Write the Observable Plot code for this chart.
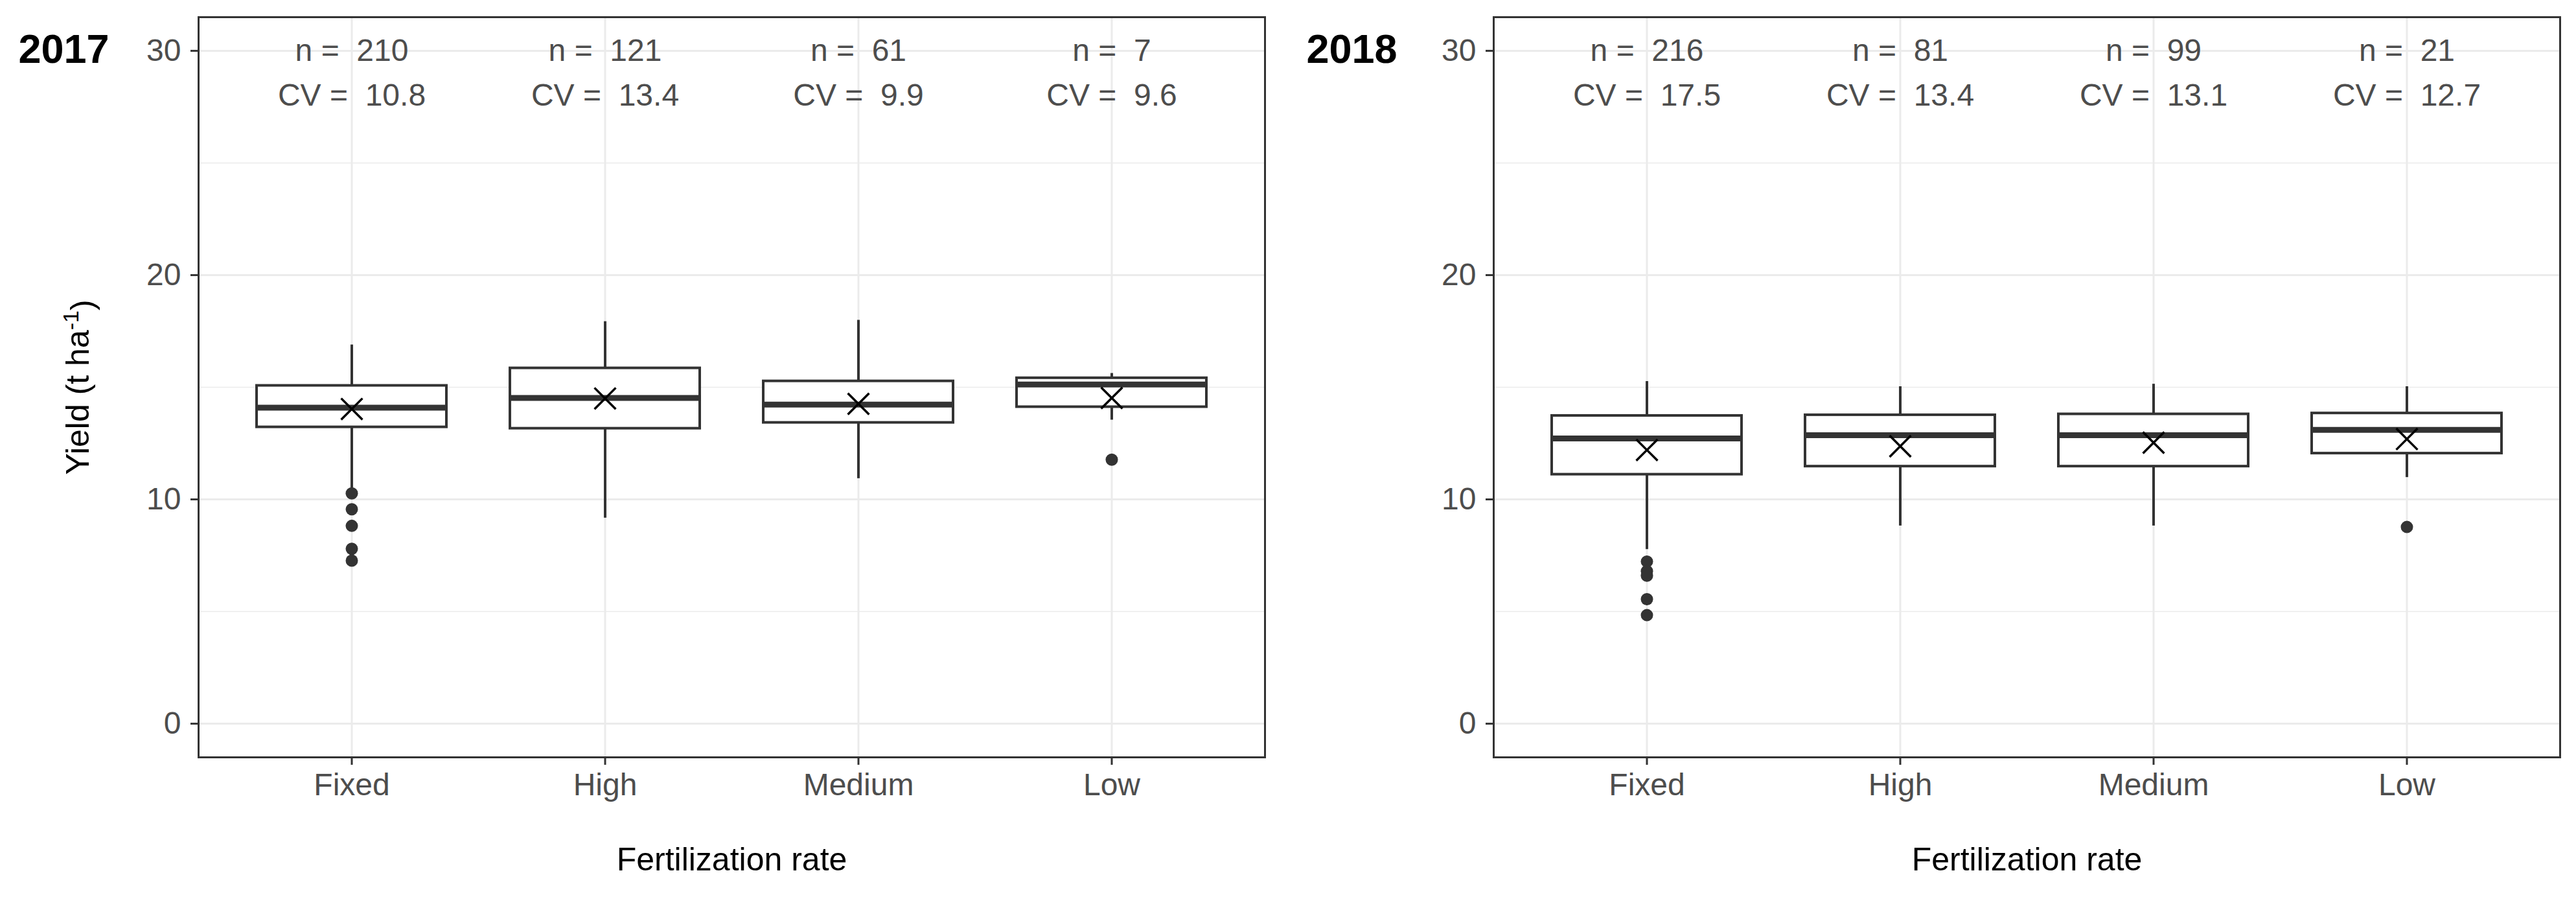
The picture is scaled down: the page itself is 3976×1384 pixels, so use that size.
<!DOCTYPE html>
<html>
<head>
<meta charset="utf-8">
<script src="https://cdn.jsdelivr.net/npm/d3@7"></script>
<script src="https://cdn.jsdelivr.net/npm/@observablehq/plot@0.6"></script>
<style>
  html, body { margin: 0; padding: 0; background: white; }
  #wrap { position: relative; width: 3976px; height: 1384px; background: white; }
  #wrap > div, #wrap > svg { position: absolute; top: 0; }
  svg text { white-space: pre; }
</style>
</head>
<body>
<div id="wrap"></div>
<script>
// ---- data ----
const categories = ["Fixed", "High", "Medium", "Low"];
const years = ["2017", "2018"];

const n2017 = [210, 121, 61, 7];
const cv2017 = ["10.8", "13.4", "9.9", "9.6"];
const lo2017 = [10.5, 9.17, 10.93, 13.54];
const q1_2017 = [13.22, 13.16, 13.42, 14.12];
const med2017 = [14.09, 14.52, 14.23, 15.12];
const q3_2017 = [15.07, 15.85, 15.27, 15.41];
const hi2017 = [16.89, 17.93, 17.99, 15.62];
const mean2017 = [14.03, 14.5, 14.26, 14.52];
const outCat2017 = ["Fixed", "Fixed", "Fixed", "Fixed", "Fixed", "Low"];
const outVal2017 = [10.27, 9.56, 8.82, 7.8, 7.27, 11.77];

const n2018 = [216, 81, 99, 21];
const cv2018 = ["17.5", "13.4", "13.1", "12.7"];
const lo2018 = [7.77, 8.82, 8.82, 10.98];
const q1_2018 = [11.11, 11.47, 11.47, 12.05];
const med2018 = [12.72, 12.86, 12.86, 13.1];
const q3_2018 = [13.73, 13.76, 13.8, 13.84];
const hi2018 = [15.26, 15.03, 15.14, 15.03];
const mean2018 = [12.2, 12.37, 12.53, 12.69];
const outCat2018 = ["Fixed", "Fixed", "Fixed", "Fixed", "Fixed", "Low"];
const outVal2018 = [7.23, 6.8, 6.6, 5.55, 4.84, 8.77];

const yTicks = [0, 10, 20, 30];
const yMinor = [5, 15, 25];
const xTitle = "Fertilization rate";
const yTitle = "Yield (t ha-1)";

// ---- build ----
function stats(n, cv, lo, q1, med, q3, hi, mean) {
  return categories.map((c, i) => ({cat: c, n: n[i], cv: cv[i], lo: lo[i], q1: q1[i], med: med[i], q3: q3[i], hi: hi[i], mean: mean[i]}));
}
const data = {
  "2017": {rows: stats(n2017, cv2017, lo2017, q1_2017, med2017, q3_2017, hi2017, mean2017),
           out: outCat2017.map((c, i) => ({cat: c, v: outVal2017[i]}))},
  "2018": {rows: stats(n2018, cv2018, lo2018, q1_2018, med2018, q3_2018, hi2018, mean2018),
           out: outCat2018.map((c, i) => ({cat: c, v: outVal2018[i]}))}
};

const FONT = "'Liberation Sans', Arial, Helvetica, sans-serif";
const GREY = "#333333";
const TXT = "#4d4d4d";

function panel(year, ml, mr, showYTitle) {
  const {rows, out} = data[year];
  const marks = [
    Plot.gridY(yMinor, {stroke: "#ebebeb", strokeOpacity: 1, strokeWidth: 1.6}),
    Plot.gridY(yTicks, {stroke: "#ebebeb", strokeOpacity: 1, strokeWidth: 3}),
    Plot.ruleX(categories, {x: d => d, stroke: "#ebebeb", strokeWidth: 3}),
    Plot.frame({stroke: GREY, strokeWidth: 3}),
    Plot.axisY({ticks: yTicks, tickSize: 12, tickPadding: 15, fontSize: 48, stroke: GREY, fill: TXT, strokeWidth: 3, label: null}),
    Plot.axisX({tickSize: 12, tickPadding: 12, fontSize: 48, stroke: GREY, fill: TXT, strokeWidth: 3, label: null}),
    // whiskers
    Plot.ruleX(rows, {x: "cat", y1: "q3", y2: "hi", stroke: GREY, strokeWidth: 4}),
    Plot.ruleX(rows, {x: "cat", y1: "lo", y2: "q1", stroke: GREY, strokeWidth: 4}),
    // boxes
    Plot.barY(rows, {x: "cat", y1: "q1", y2: "q3", fill: "white", stroke: GREY, strokeWidth: 4}),
    // median
    Plot.tickY(rows, {x: "cat", y: "med", stroke: GREY, strokeWidth: 9}),
    // outliers
    Plot.dot(out, {x: "cat", y: "v", r: 9.5, fill: GREY, stroke: null}),
    // mean
    Plot.dot(rows, {x: "cat", y: "mean", symbol: "times", r: 15, stroke: "black", strokeWidth: 3.5}),
    // annotations
    Plot.text(rows, {x: "cat", y: 30, text: d => `n =  ${d.n}`, fontSize: 48, fill: TXT}),
    Plot.text(rows, {x: "cat", y: 28, text: d => `CV =  ${d.cv}`, fontSize: 48, fill: TXT}),
    // titles
    Plot.text([xTitle], {frameAnchor: "bottom", lineAnchor: "middle", textAnchor: "middle", text: d => d, dy: 158, fontSize: 50, fill: "black"}),
    Plot.text([year], {frameAnchor: "top-left", lineAnchor: "middle", text: d => d, textAnchor: "start", dx: -(ml - 28), dy: 50, fontSize: 63, fontWeight: "bold", fill: "black"})
  ];
  if (showYTitle) {
    marks.push(Plot.text([yTitle], {frameAnchor: "left", lineAnchor: "middle", textAnchor: "middle", text: d => d, rotate: -90, dx: -186, fontSize: 50, fill: "black"}));
  }
  return Plot.plot({
    width: 1988,
    height: 1384,
    marginTop: 26,
    marginBottom: 216,
    marginLeft: ml,
    marginRight: mr,
    style: {fontFamily: FONT, background: "white", overflow: "visible"},
    x: {type: "band", domain: categories, paddingInner: 0.25, paddingOuter: 0.225, axis: null},
    y: {domain: [-1.5, 31.5], axis: null},
    marks
  });
}

const wrap = document.getElementById("wrap");
const p1 = panel("2017", 306, 36, true);
p1.style.left = "0px";
const p2 = panel("2018", 317, 25, false);
p2.style.left = "1988px";
wrap.appendChild(p1);
wrap.appendChild(p2);

// superscript for the y-axis title
for (const t of p1.querySelectorAll("text")) {
  if (t.textContent === yTitle) {
    t.textContent = "";
    const ns = "http://www.w3.org/2000/svg";
    const a = document.createElementNS(ns, "tspan"); a.textContent = "Yield (t ha";
    const b = document.createElementNS(ns, "tspan"); b.textContent = "-1"; b.setAttribute("dy", "-0.45em"); b.setAttribute("font-size", "34");
    const c = document.createElementNS(ns, "tspan"); c.textContent = ")"; c.setAttribute("dy", "0.45em");
    t.append(a, b, c);
  }
}
</script>
</body>
</html>
